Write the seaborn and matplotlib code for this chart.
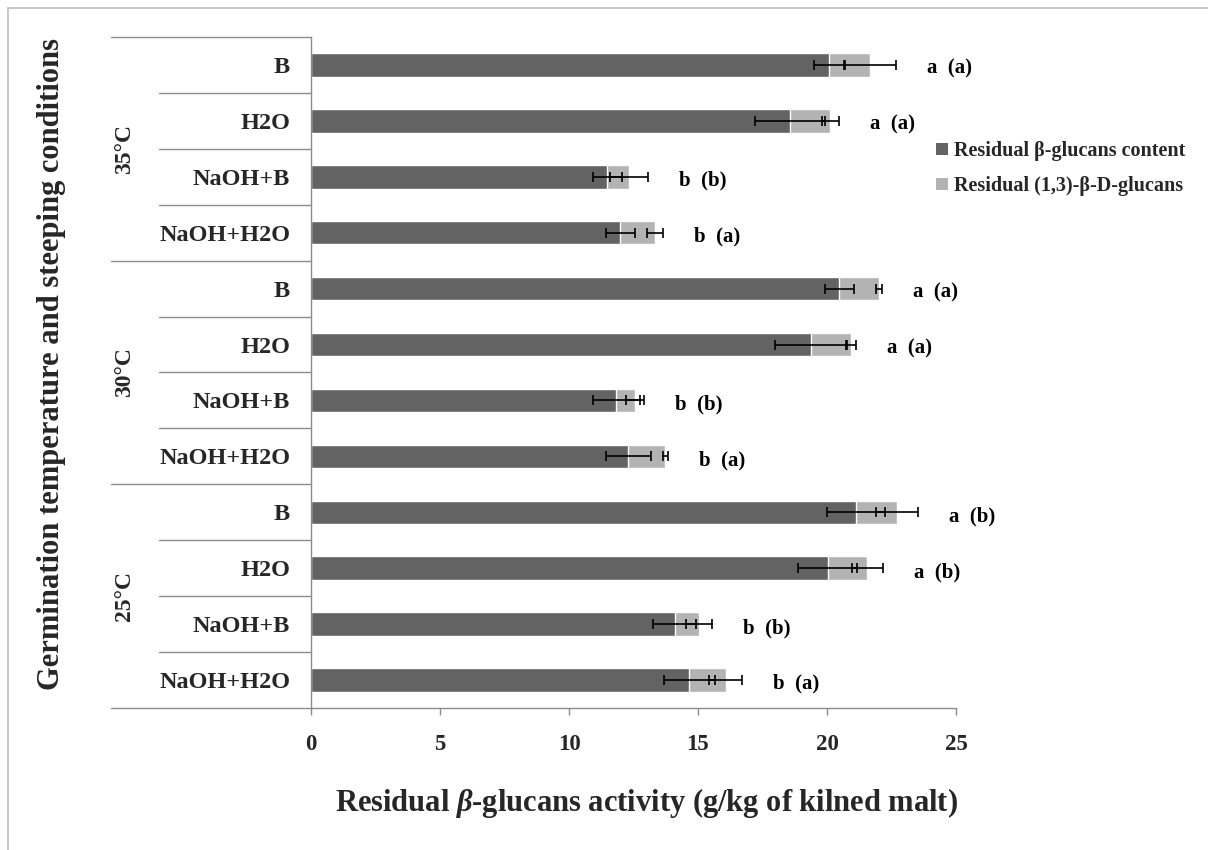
import numpy as np
import pandas as pd
import matplotlib
matplotlib.use("Agg")
import matplotlib.pyplot as plt
import matplotlib.transforms as mtransforms
from matplotlib.lines import Line2D
from matplotlib.patches import Patch
import seaborn as sns

# ---------------- data (top to bottom) ----------------
temperatures = ["35°C", "30°C", "25°C"]
conditions = ["B", "H2O", "NaOH+B", "NaOH+H2O"]
beta_glucans = [20.08, 18.56, 11.48, 11.98,
                20.47, 19.38, 11.83, 12.30,
                21.13, 20.02, 14.09, 14.67]
beta_glucans_err = [0.60, 1.36, 0.56, 0.56,
                    0.56, 1.38, 0.91, 0.88,
                    1.13, 1.15, 0.85, 0.97]
glucans_13 = [1.59, 1.56, 0.85, 1.37,
              1.54, 1.55, 0.74, 1.44,
              1.59, 1.54, 0.95, 1.40]
glucans_13_err = [1.00, 0.33, 0.73, 0.31,
                  0.12, 0.20, 0.35, 0.10,
                  0.81, 0.60, 0.49, 0.64]
significance = ["a  (a)", "a  (a)", "b  (b)", "b  (a)",
                "a  (a)", "a  (a)", "b  (b)", "b  (a)",
                "a  (b)", "a  (b)", "b  (b)", "b  (a)"]
x_ticks = [0, 5, 10, 15, 20, 25]

DARK = "#636363"
LIGHT = "#b3b3b3"
AXIS_GRAY = "#8c8c8c"

sns.set_theme(style="white")
plt.rcParams["font.family"] = ["Liberation Serif", "DejaVu Serif"]
plt.rcParams["font.weight"] = "bold"
plt.rcParams["mathtext.fontset"] = "custom"
plt.rcParams["mathtext.it"] = "Liberation Serif:italic:bold"
plt.rcParams["mathtext.rm"] = "Liberation Serif:bold"

row_cond = [c for t in temperatures for c in conditions]
row_temp = [t for t in temperatures for c in conditions]
df = pd.DataFrame({
    "row": [f"{t} {c}" for t, c in zip(row_temp, row_cond)],
    "dark": beta_glucans,
    "light": glucans_13,
})
df["total"] = df["dark"] + df["light"]

W, H = 1208, 850
fig = plt.figure(figsize=(W / 100, H / 100), dpi=100)
ax = fig.add_axes([311 / W, 1 - 708 / H, 645 / W, 671 / H])

sns.barplot(data=df, y="row", x="total", orient="h", color=LIGHT,
            saturation=1, width=0.42, errorbar=None, ax=ax)
sns.barplot(data=df, y="row", x="dark", orient="h", color=DARK,
            saturation=1, width=0.42, errorbar=None, ax=ax)

ypos = np.arange(len(df))
ax.errorbar(df["dark"], ypos, xerr=beta_glucans_err, fmt="none",
            ecolor="black", elinewidth=1.2, capsize=3.5, capthick=1.2)
ax.errorbar(df["total"], ypos, xerr=glucans_13_err, fmt="none",
            ecolor="black", elinewidth=1.2, capsize=3.5, capthick=1.2)

# significance letters
for i, (tot, e, lab) in enumerate(zip(df["total"], glucans_13_err, significance)):
    ax.text(tot + e + 1.2, i + 0.07, lab, ha="left", va="center",
            fontsize=15, fontweight="bold", color="black")

# axes
ax.set_xlim(0, 25)
ax.set_ylim(len(df) - 0.5, -0.5)
ax.set_xticks(x_ticks)
ax.set_xticklabels([str(t) for t in x_ticks], fontsize=16.5, fontweight="bold")
ax.tick_params(axis="x", direction="out", length=5, width=1, color=AXIS_GRAY,
               pad=14, bottom=True)
ax.set_yticks(ypos)
ax.set_yticklabels(row_cond, fontsize=17.5, fontweight="bold")
ax.tick_params(axis="y", length=0, pad=15)
for s in ["top", "right"]:
    ax.spines[s].set_visible(False)
for s in ["left", "bottom"]:
    ax.spines[s].set_color(AXIS_GRAY)
    ax.spines[s].set_linewidth(1)
ax.set_ylabel("")
ax.set_xlabel(r"Residual $\mathit{β}$-glucans activity (g/kg of kilned malt)",
              fontsize=22, fontweight="bold", labelpad=22)
ax.xaxis.label.set_x(0.52)

# category separators (multi-level axis)
trans = mtransforms.blended_transform_factory(ax.transAxes, ax.transData)
for b in np.arange(-0.5, len(df), 1.0):
    is_group = (int(b + 0.5) % 4 == 0)
    x0 = (111 - 311) / 645 if is_group else (159 - 311) / 645
    ax.add_line(Line2D([x0, 0], [b, b], transform=trans, color=AXIS_GRAY,
                       lw=1, clip_on=False))
for gi, t in enumerate(temperatures):
    ax.text((125 - 311) / 645, gi * 4 + 1.5, t, transform=trans, rotation=90,
            ha="center", va="center", fontsize=17, fontweight="bold")

# y title
fig.text(52 / W, 1 - 364 / H, "Germination temperature and steeping conditions",
         rotation=90, ha="center", va="center", fontsize=22, fontweight="bold")

# legend
handles = [Patch(facecolor=DARK, edgecolor="none", label="Residual β-glucans content"),
           Patch(facecolor=LIGHT, edgecolor="none", label="Residual (1,3)-β-D-glucans")]
leg = fig.legend(handles=handles, loc="upper left",
                 bbox_to_anchor=(928 / W, 1 - 133 / H), frameon=False,
                 fontsize=14.5, handlelength=0.6, handleheight=0.6,
                 handletextpad=0.3, labelspacing=0.75, borderaxespad=0)
for t in leg.get_texts():
    t.set_fontweight("bold")

# chart-area border (top and left visible)
fig.add_artist(Line2D([8 / W, 1], [1 - 8 / H, 1 - 8 / H], transform=fig.transFigure,
                      color="#bfbfbf", lw=1.2))
fig.add_artist(Line2D([8 / W, 8 / W], [0, 1 - 8 / H], transform=fig.transFigure,
                      color="#bfbfbf", lw=1.2))

fig.savefig("out.png", dpi=100, facecolor="white")
